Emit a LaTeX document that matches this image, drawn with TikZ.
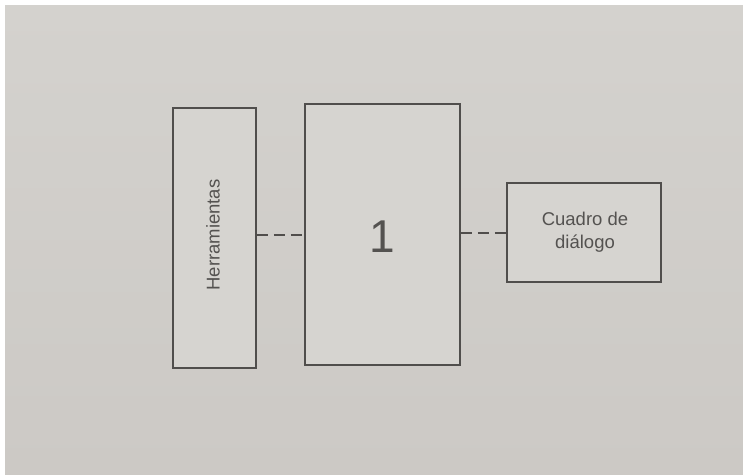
\documentclass[tikz,border=0pt]{standalone}
\usepackage{fontspec}
\setmainfont{Liberation Sans}
\definecolor{paper}{RGB}{204,201,197}
\definecolor{paperlight}{RGB}{212,210,206}
\definecolor{boxfill}{RGB}{214,212,208}
\definecolor{ink}{RGB}{80,78,76}
\definecolor{textink}{RGB}{84,82,80}
\begin{document}
\begin{tikzpicture}[x=1pt,y=-1pt,
  panel/.style={draw=ink,line width=1.7pt,fill=boxfill,inner sep=0pt},
  link/.style={draw=ink,line width=1.8pt,dash pattern=on 11pt off 6pt},
  lbl/.style={text=textink,font=\fontsize{18.5}{23}\selectfont,align=center}]
  % page and photographed sheet
  \useasboundingbox (0,0) rectangle (743,474);
  \fill[white] (0,0) rectangle (743,474);
  \shade[top color=paperlight,bottom color=paper] (5,5) rectangle (743,474);
  % boxes
  \node[panel,minimum width=83pt,minimum height=260pt] (tools) at (214.5,238) {};
  \node[panel,minimum width=155pt,minimum height=261pt] (main) at (382.5,234.5) {};
  \node[panel,minimum width=154pt,minimum height=99pt] (dialog) at (584,232.5) {};
  % labels
  \node[lbl,rotate=90] (toolslbl) at (213,235) {Herramientas};
  \node[text=textink,font=\fontsize{46}{46}\selectfont] (mainlbl) at (382,237) {1};
  \node[lbl] (dialoglbl) at (585,232) {Cuadro de\\diálogo};
  % dashed connectors
  \draw[link] (tools.east |- 0,235) -- (main.west |- 0,235);
  \draw[link] (main.east |- 0,233) -- (dialog.west |- 0,233);
\end{tikzpicture}
\end{document}
